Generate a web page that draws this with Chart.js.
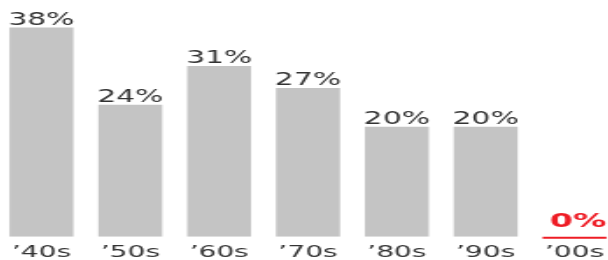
<!DOCTYPE html>
<html lang="en">
<head>
    <meta charset="UTF-8">
    <title>Share by decade</title>
    <script src="https://cdn.jsdelivr.net/npm/chart.js"></script>
    <style>
        html, body { margin: 0; padding: 0; background: #fff; overflow: hidden; }
        #wrap {
            position: absolute; left: -3px; top: 0;
            width: 355px; height: 260px;
            transform: scaleX(1.752); transform-origin: 0 0;
        }
    </style>
</head>
<body>

    <div id="wrap">
        <canvas id="myChart"></canvas>
    </div>

    <script>
        const decades = ['\u201940s', '\u201950s', '\u201960s', '\u201970s', '\u201980s', '\u201990s', '\u201900s'];
        const shares = [38, 24, 31, 27, 20, 20, 0];
        const shareLabels = ['38%', '24%', '31%', '27%', '20%', '20%', '0%'];

        const FONT = 'DejaVu Sans';

        // value labels above the bars, red baseline mark for the zero bar
        const valueLabels = {
            id: 'valueLabels',
            afterDatasetsDraw: (chart) => {
                const {ctx} = chart;
                const meta = chart.getDatasetMeta(0);
                ctx.save();
                ctx.textAlign = 'center';
                ctx.textBaseline = 'alphabetic';
                meta.data.forEach((bar, i) => {
                    if (shares[i] > 0) {
                        ctx.fillStyle = '#333';
                        ctx.font = '17px "' + FONT + '"';
                        ctx.fillText(shareLabels[i], bar.x, bar.y - 3);
                    } else {
                        ctx.strokeStyle = '#ee1c25';
                        ctx.lineWidth = 2;
                        ctx.beginPath();
                        ctx.moveTo(bar.x - bar.width / 2, bar.base + 1);
                        ctx.lineTo(bar.x + bar.width / 2, bar.base + 1);
                        ctx.stroke();
                        ctx.fillStyle = '#ee1c25';
                        ctx.font = 'bold 19px "' + FONT + '"';
                        ctx.fillText(shareLabels[i], bar.x + 2, bar.base - 10);
                    }
                });
                ctx.restore();
            }
        };

        const ctx = document.getElementById('myChart');

        new Chart(ctx, {
            type: 'bar',
            data: {
                labels: decades,
                datasets: [{
                    data: shares,
                    backgroundColor: '#c4c4c4',
                    borderWidth: 0,
                    barPercentage: 0.72,
                    categoryPercentage: 1
                }]
            },
            options: {
                animation: false,
                responsive: true,
                maintainAspectRatio: false,
                layout: { padding: { top: 0, left: 0, right: 0, bottom: -8 } },
                plugins: {
                    legend: { display: false },
                    tooltip: { enabled: false }
                },
                scales: {
                    x: {
                        grid: { display: false, drawTicks: false },
                        border: { display: false },
                        ticks: {
                            color: '#333',
                            font: { family: FONT, size: 16 },
                            padding: 6,
                            maxRotation: 0,
                            autoSkip: false
                        }
                    },
                    y: {
                        display: false,
                        min: 0,
                        max: 43
                    }
                }
            },
            plugins: [valueLabels]
        });
    </script>

</body>
</html>
